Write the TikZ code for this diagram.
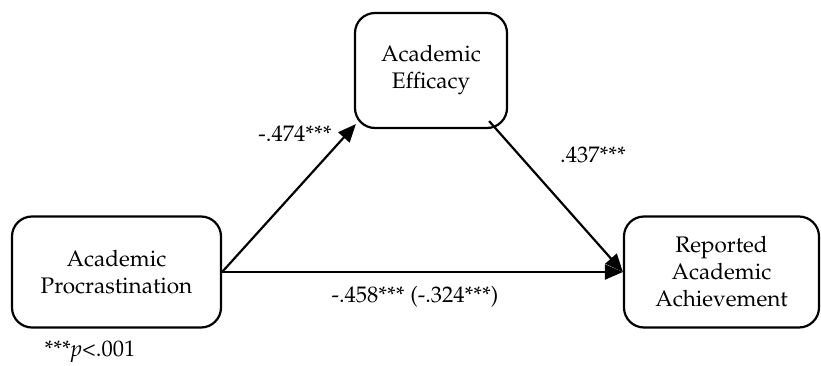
\documentclass[tikz,border=0pt]{standalone}
\usepackage[T1]{fontenc}
\usepackage{mathpazo}
\usetikzlibrary{arrows.meta}

\begin{document}
\begin{tikzpicture}[x=1pt,y=1pt,
  box/.style={draw, line width=2.2pt, rounded corners=20pt, align=center,
    font=\fontsize{22.5}{27}\selectfont},
  path/.style={line width=2.2pt, -{Triangle[length=18pt,width=15pt]}},
  coef/.style={font=\fontsize{22.5}{27}\selectfont}]
\useasboundingbox (0,0) rectangle (821,365);
% the three variables
\node[box, minimum width=209pt, minimum height=111pt] (AP) at (116.5,93) {Academic\\Procrastination};
\node[box, minimum width=152pt, minimum height=115pt] (AE) at (431,294.5) {Academic\\Efficacy};
\node[box, minimum width=195pt, minimum height=111pt] (RA) at (721.5,93) {Reported\\Academic\\Achievement};
% paths
\draw[path] (AP.east) -- ([shift={(2pt,5pt)}]AE.south west);
\draw[path] ([shift={(-19pt,8pt)}]AE.south east) -- (RA.west);
\draw[path] (AP.east) -- (RA.west);
% coefficients
\node[coef] (a) at (295,231) {-.474***};
\node[coef] (b) at (593,210) {.437***};
\node[coef] (c) at (415,68) {-.458*** (-.324***)};
\node[coef] (note) at (90,13) {***\textit{p}<.001};
\end{tikzpicture}
\end{document}
